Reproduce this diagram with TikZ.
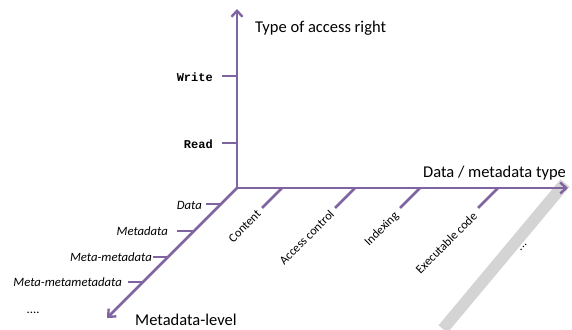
\documentclass[tikz,border=0pt]{standalone}
\usepackage{fontspec}
\setmainfont{Carlito}
\newfontfamily\codefont{Liberation Mono}
\usetikzlibrary{arrows.meta}
\definecolor{axispurple}{HTML}{8064A2}
\definecolor{bandgray}{HTML}{D4D4D4}
\tikzset{
  axisline/.style={draw=axispurple, line width=2.6pt,
    -{Straight Barb[length=6pt,width=11pt,line width=2.4pt]}},
  tickline/.style={draw=axispurple, line width=2.6pt},
  leveltext/.style={font=\fontsize{12.7}{14}\selectfont\itshape, anchor=base east, inner sep=0pt},
  typetext/.style={font=\fontsize{12.3}{14}\selectfont, anchor=east, rotate=45, inner sep=0pt},
  righttext/.style={font=\codefont\bfseries\fontsize{12}{14}\selectfont, anchor=east, inner sep=0pt},
  axistitle/.style={font=\fontsize{16.5}{18}\selectfont, anchor=base west, inner sep=0pt}
}
\begin{document}
\begin{tikzpicture}[x=1pt, y=-1pt]
  \useasboundingbox (0,0) rectangle (572,329);
  \clip (0,0) rectangle (572,329);

  % light grey band behind the end of the type axis
  \fill[bandgray] (569.5,186.7) -- (560.5,179.3) -- (438.5,325.3) -- (447.5,332.7) -- cycle;

  % origin and axis ends
  \coordinate (O) at (237,188);
  \coordinate (up) at (237,9);
  \coordinate (right) at (568,188);
  \coordinate (down) at (107,318);

  % ticks on the access-right axis
  \coordinate (wA) at (237,76);  \coordinate (wB) at (222,76);
  \coordinate (rA) at (237,143); \coordinate (rB) at (222,143);
  % ticks on the metadata-level axis
  \coordinate (l1A) at (221,204); \coordinate (l1B) at (206,204);
  \coordinate (l2A) at (194,231); \coordinate (l2B) at (177,231);
  \coordinate (l3A) at (168,257); \coordinate (l3B) at (153,257);
  \coordinate (l4A) at (143,282); \coordinate (l4B) at (128,282);
  % ticks on the type axis
  \coordinate (t1A) at (282,188); \coordinate (t1B) at (262,208);
  \coordinate (t2A) at (355,188); \coordinate (t2B) at (335,208);
  \coordinate (t3A) at (420,188); \coordinate (t3B) at (400,208);
  \coordinate (t4A) at (498,188); \coordinate (t4B) at (478,208);

  \draw[tickline] (wA) -- (wB);
  \draw[tickline] (rA) -- (rB);
  \draw[tickline] (l1A) -- (l1B);
  \draw[tickline] (l2A) -- (l2B);
  \draw[tickline] (l3A) -- (l3B);
  \draw[tickline] (l4A) -- (l4B);
  \draw[tickline] (t1A) -- (t1B);
  \draw[tickline] (t2A) -- (t2B);
  \draw[tickline] (t3A) -- (t3B);
  \draw[tickline] (t4A) -- (t4B);

  \draw[axisline] (O) -- (up);
  \draw[axisline] (O) -- (right);
  \draw[axisline] (O) -- (down);

  % axis titles
  \node[axistitle] (accessT) at (255,33) {Type of access right};
  \node[axistitle] (typeT) at (423,177) {Data / metadata type};
  \node[axistitle] (levelT) at (135,325) {Metadata-level};

  % access rights
  \node[righttext] (write) at (213,77) {Write};
  \node[righttext] (read) at (213,144) {Read};

  % metadata levels
  \node[leveltext] (lv1) at (202,209) {Data};
  \node[leveltext] (lv2) at (168,235) {Metadata};
  \node[leveltext] (lv3) at (152,261) {Meta-metadata};
  \node[leveltext] (lv4) at (122,286) {Meta-metametadata};
  \node[leveltext] (lv5) at (40,313) {....};

  % data / metadata types
  \node[typetext] (ty1) at (259,212) {Content};
  \node[typetext] (ty2) at (332,212) {Access control};
  \node[typetext] (ty3) at (397,214) {Indexing};
  \node[typetext] (ty4) at (475,214) {Executable code};
  \node[typetext] (ty5) at (527,244) {...};
\end{tikzpicture}
\end{document}
